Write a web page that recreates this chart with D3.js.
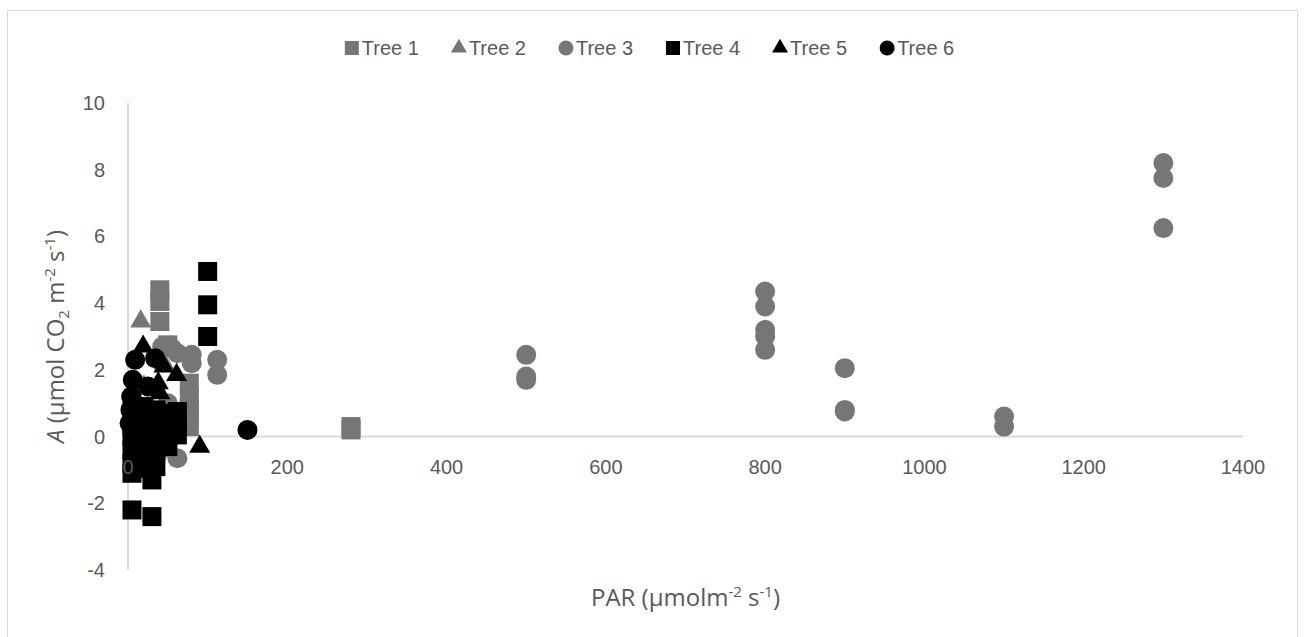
<!DOCTYPE html>
<html>
<head>
<meta charset="utf-8">
<script src="https://cdn.jsdelivr.net/npm/d3@7"></script>
<style>
  html, body { margin: 0; padding: 0; background: #fff; }
  svg { display: block; }
  text { font-family: "Liberation Sans", Arial, sans-serif; fill: #595959; }
  .title { font-family: "Open Sans", "Liberation Sans", sans-serif; }
</style>
</head>
<body>
<svg id="chart" width="1306" height="637"></svg>
<script>
// Light response measurements: PAR (x) vs net assimilation A (y) per tree
const seriesNames = ["Tree 1", "Tree 2", "Tree 3", "Tree 4", "Tree 5", "Tree 6"];

const tree1PAR = [40, 40, 40, 50, 77, 77, 77, 77, 77, 280, 280];
const tree1A   = [4.4, 4.05, 3.45, 2.75, 1.6, 1.2, 0.85, 0.55, 0.3, 0.2, 0.3];

const tree2PAR = [16, 20, 10, 30, 45];
const tree2A   = [3.45, 1.5, 0.5, 0.1, 2.2];

const tree3PAR = [43, 55, 62, 80, 80, 112, 112, 62, 45, 50,
                  500, 500, 500, 800, 800, 800, 800, 800, 900, 900, 900,
                  1100, 1100, 1300, 1300, 1300];
const tree3A   = [2.7, 2.65, 2.5, 2.45, 2.2, 2.3, 1.85, -0.65, -0.35, 1.0,
                  2.45, 1.8, 1.7, 4.35, 3.9, 3.2, 3.0, 2.6, 2.05, 0.8, 0.75,
                  0.6, 0.3, 8.2, 7.75, 6.25];

const tree4PAR = [100, 100, 100, 5, 30, 30, 5,
                  5, 5, 5, 5, 5, 5,
                  20, 20, 20, 20, 20, 20,
                  35, 35, 35, 35, 35,
                  50, 50, 50, 50,
                  62, 62, 62];
const tree4A   = [4.95, 3.95, 3.0, -2.2, -2.4, -1.3, -1.1,
                  1.0, 0.6, 0.3, 0.0, -0.4, -0.8,
                  0.9, 0.5, 0.1, -0.2, -0.6, -0.95,
                  0.8, 0.4, 0.0, -0.45, -0.9,
                  0.7, 0.35, 0.0, -0.3,
                  0.75, 0.4, 0.05];

const tree5PAR = [19, 38, 61, 45, 90, 40, 10];
const tree5A   = [2.7, 1.6, 1.85, 2.1, -0.3, 1.3, 0.5];

const tree6PAR = [9, 34, 6, 4, 3, 2, 8, 15, 150, 25, 30];
const tree6A   = [2.3, 2.35, 1.7, 1.2, 0.8, 0.4, 0.0, -0.3, 0.2, 1.5, 0.6];

const xTicks = [0, 200, 400, 600, 800, 1000, 1200, 1400];
const yTicks = [-4, -2, 0, 2, 4, 6, 8, 10];

const seriesPAR = [tree1PAR, tree2PAR, tree3PAR, tree4PAR, tree5PAR, tree6PAR];
const seriesA   = [tree1A, tree2A, tree3A, tree4A, tree5A, tree6A];
const seriesColor = ["#767676", "#767676", "#767676", "#000000", "#000000", "#000000"];
const seriesShape = [d3.symbolSquare, d3.symbolTriangle, d3.symbolCircle,
                     d3.symbolSquare, d3.symbolTriangle, d3.symbolCircle];

// marker areas for the plotted points and for the legend keys
function markerSize(shape, big) {
  if (shape === d3.symbolSquare) return big ? 19 * 19 : 14 * 14;
  if (shape === d3.symbolCircle) return Math.PI * (big ? 10 * 10 : 7.5 * 7.5);
  const side = big ? 21 : 16;
  return Math.sqrt(3) / 4 * side * side;
}

const svg = d3.select("#chart");

// chart frame
svg.append("rect")
  .attr("x", 7.5).attr("y", 10.5)
  .attr("width", 1290).attr("height", 640)
  .attr("fill", "#fff").attr("stroke", "#d9d9d9").attr("stroke-width", 1);

const x = d3.scaleLinear().domain([0, 1400]).range([128, 1243]);
const y = d3.scaleLinear().domain([-4, 10]).range([570, 103]);

// axis lines (y axis at PAR 0, x axis at A 0)
svg.append("line")
  .attr("x1", x(0)).attr("x2", x(0)).attr("y1", y(10)).attr("y2", y(-4))
  .attr("stroke", "#d9d9d9").attr("stroke-width", 2);
svg.append("line")
  .attr("x1", x(0)).attr("x2", x(1400)).attr("y1", y(0)).attr("y2", y(0))
  .attr("stroke", "#d9d9d9").attr("stroke-width", 2);

// points
seriesNames.forEach((name, i) => {
  const pts = seriesPAR[i].map((p, j) => ({ p, a: seriesA[i][j] }));
  const sym = d3.symbol().type(seriesShape[i]).size(markerSize(seriesShape[i], true));
  svg.append("g").attr("class", "series")
    .selectAll("path").data(pts).join("path")
    .attr("d", sym)
    .attr("transform", d => `translate(${x(d.p)},${y(d.a)})`)
    .attr("fill", seriesColor[i]);
});

// tick labels sit above the markers
svg.append("g").selectAll("text").data(yTicks).join("text")
  .attr("x", 105).attr("y", d => y(d)).attr("dy", "0.35em")
  .attr("text-anchor", "end").attr("font-size", 20)
  .text(d => d);

svg.append("g").selectAll("text").data(xTicks).join("text")
  .attr("x", d => x(d)).attr("y", y(0) + 30).attr("dy", "0.35em")
  .attr("text-anchor", "middle").attr("font-size", 20)
  .text(d => d);

// axis titles
const xt = svg.append("text").attr("class", "title")
  .attr("x", (x(0) + x(1400)) / 2).attr("y", 606)
  .attr("text-anchor", "middle").attr("font-size", 24);
xt.append("tspan").text("PAR (µmolm");
xt.append("tspan").attr("font-size", 15).attr("dy", -9).text("-2");
xt.append("tspan").attr("dy", 9).text(" s");
xt.append("tspan").attr("font-size", 15).attr("dy", -9).text("-1");
xt.append("tspan").attr("dy", 9).text(")");

const yt = svg.append("text").attr("class", "title")
  .attr("transform", `translate(64,${(y(10) + y(-4)) / 2}) rotate(-90)`)
  .attr("text-anchor", "middle").attr("font-size", 24);
yt.append("tspan").attr("font-style", "italic").text("A");
yt.append("tspan").text(" (µmol CO");
yt.append("tspan").attr("font-size", 15).attr("dy", 5).text("2");
yt.append("tspan").attr("dy", -5).text(" m");
yt.append("tspan").attr("font-size", 15).attr("dy", -9).text("-2");
yt.append("tspan").attr("dy", 9).text(" s");
yt.append("tspan").attr("font-size", 15).attr("dy", -9).text("-1");
yt.append("tspan").attr("dy", 9).text(")");

// legend, laid out left to right and centred on the frame
const legend = svg.append("g");
let cursor = 0;
const gap = 32;
seriesNames.forEach((name, i) => {
  const item = legend.append("g").attr("transform", `translate(${cursor},0)`);
  item.append("path")
    .attr("d", d3.symbol().type(seriesShape[i]).size(markerSize(seriesShape[i], false)))
    .attr("transform", "translate(8,0)")
    .attr("fill", seriesColor[i]);
  const t = item.append("text").attr("x", 18).attr("dy", "0.35em")
    .attr("font-size", 20).text(name);
  cursor += 18 + t.node().getComputedTextLength() + gap;
});
cursor -= gap;
legend.attr("transform", `translate(${649 - cursor / 2},48)`);
</script>
</body>
</html>
